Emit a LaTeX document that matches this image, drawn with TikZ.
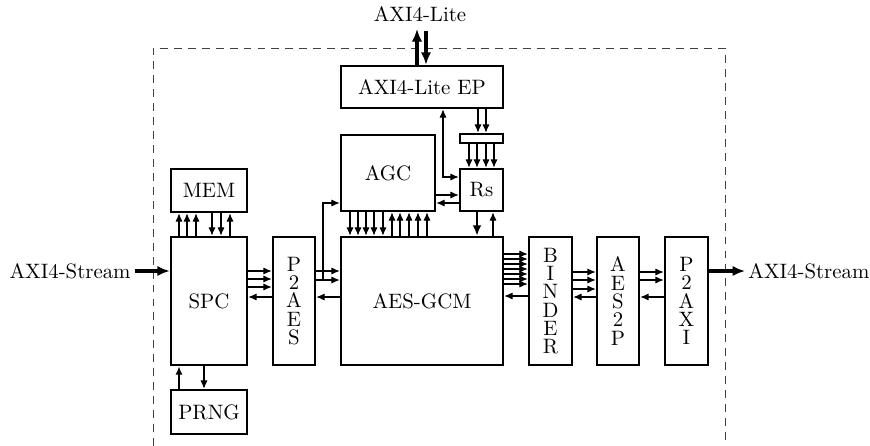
\documentclass[tikz,border=0pt]{standalone}
\usetikzlibrary{arrows.meta,calc}
\begin{document}
\begin{tikzpicture}[x=0.48pt,y=-0.48pt,
  box/.style={draw,line width=1.2pt,inner sep=0pt,align=center},
  arr/.style={line width=0.5pt,-{Latex[length=4pt,width=3.4pt]}},
  barr/.style={line width=0.5pt,{Latex[length=4pt,width=3.4pt]}-{Latex[length=4pt,width=3.4pt]}},
  marr/.style={line width=0.9pt,-{Latex[length=5pt,width=4.2pt]}},
  tarr/.style={line width=1.6pt,-{Latex[length=6pt,width=5pt]}},
  bound/.style={draw=black!75,line width=0.45pt,dash pattern=on 3.8pt off 2.9pt}]
\useasboundingbox (0,0) rectangle (870,446);
\newcommand\blk[6]{\node[box,minimum width=#4*0.48pt,minimum height=#5*0.48pt] (#1) at (#2,#3) {#6};}
% boundary
\draw[bound] (153,446) -- (153,48) -- (725,48) -- (725,446);
% blocks
\blk{ep}{422}{87}{162}{42}{AXI4-Lite EP}
\blk{agc}{388}{173}{94}{76}{AGC}
\blk{bar}{481.5}{138.5}{43}{9}{}
\blk{rs}{481.5}{190}{43}{42}{Rs}
\blk{gcm}{422}{301}{162}{128}{AES-GCM}
\blk{mem}{209}{190.5}{76}{43}{MEM}
\blk{spc}{209}{301}{76}{128}{SPC}
\blk{prng}{209}{412}{76}{44}{PRNG}
\blk{p2aes}{294}{301}{42}{128}{P\\[-3.2pt]2\\[-3.2pt]A\\[-3.2pt]E\\[-3.2pt]S}
\blk{binder}{550.5}{301}{43}{128}{B\\[-3.2pt]I\\[-3.2pt]N\\[-3.2pt]D\\[-3.2pt]E\\[-3.2pt]R}
\blk{aestwop}{618}{301}{42}{128}{A\\[-3.2pt]E\\[-3.2pt]S\\[-3.2pt]2\\[-3.2pt]P}
\blk{ptwoaxi}{686.5}{301}{43}{128}{P\\[-3.2pt]2\\[-3.2pt]A\\[-3.2pt]X\\[-3.2pt]I}
% external labels
\node (lite) at (420,14) {AXI4-Lite};
\node[anchor=east,inner sep=0pt] (sin) at (131,271) {AXI4-Stream};
\node[anchor=west,inner sep=0pt] (sout) at (748,271) {AXI4-Stream};
\coordinate (litup) at (417,29);
\coordinate (litdn) at (426,31);
% AXI4-Lite
\draw[tarr] (ep.north -| litup) -- (litup);
\draw[tarr] (litdn) -- (ep.north -| litdn);
% AXI4-Stream
\draw[tarr] (sin.east) ++(4,0) coordinate (sinx) -- (spc.west |- sinx);
\draw[tarr] (ptwoaxi.east |- sout.west) -- ($(sout.west)+(-3,0)$);
% MEM <-> SPC
\foreach \x in {179,187,196,230} \draw[arr] (spc.north -| \x,0) -- (mem.south -| \x,0);
\foreach \x in {212,221} \draw[arr] (mem.south -| \x,0) -- (spc.north -| \x,0);
% SPC <-> PRNG
\draw[arr,line width=0.8pt] (prng.north -| 179,0) -- (spc.south -| 179,0);
\draw[arr] (spc.south -| 204,0) -- (prng.north -| 204,0);
% SPC <-> P2AES
\foreach \y in {271,279,287} \draw[arr] (spc.east |- 0,\y) -- (p2aes.west |- 0,\y);
\draw[arr] (p2aes.west |- 0,297) -- (spc.east |- 0,297);
% P2AES <-> AES-GCM
\foreach \y in {271,280} \draw[arr] (p2aes.east |- 0,\y) -- (gcm.west |- 0,\y);
\draw[arr] (gcm.west |- 0,297) -- (p2aes.east |- 0,297);
\coordinate (br) at (323,280);
\draw[arr] (br) |- (agc.west |- 0,203);
% AGC <-> AES-GCM
\foreach \x in {350,358,366,374,383} \draw[arr] (agc.south -| \x,0) -- (gcm.north -| \x,0);
\foreach \x in {392,400,409,418,427} \draw[arr] (gcm.north -| \x,0) -- (agc.south -| \x,0);
% Rs <-> AES-GCM
\draw[marr] (rs.south -| 477,0) -- (gcm.north -| 477,0);
\draw[arr] (gcm.north -| 493,0) -- (rs.south -| 493,0);
% AGC <-> Rs
\draw[arr] (agc.east |- 0,195) -- (rs.west |- 0,195);
\draw[arr] (rs.west |- 0,203) -- (agc.east |- 0,203);
% EP <-> Rs
\draw[barr] (ep.south -| 443,0) |- (rs.west |- 0,177);
% EP -> bar -> Rs
\foreach \x in {478,486} \draw[arr] (ep.south -| \x,0) -- (bar.north -| \x,0);
\foreach \x in {469,477,486,494} \draw[arr] (bar.south -| \x,0) -- (rs.north -| \x,0);
% AES-GCM <-> BINDER
\foreach \y in {254,259,264,269,274,279,284} \draw[arr] (gcm.east |- 0,\y) -- (binder.west |- 0,\y);
\draw[arr] (binder.west |- 0,296) -- (gcm.east |- 0,296);
% BINDER <-> AES2P
\foreach \y in {272,280,289} \draw[arr] (binder.east |- 0,\y) -- (aestwop.west |- 0,\y);
\draw[arr] (aestwop.west |- 0,297) -- (binder.east |- 0,297);
% AES2P <-> P2AXI
\foreach \y in {272,280} \draw[arr] (aestwop.east |- 0,\y) -- (ptwoaxi.west |- 0,\y);
\draw[arr] (ptwoaxi.west |- 0,297) -- (aestwop.east |- 0,297);
\end{tikzpicture}
\end{document}
